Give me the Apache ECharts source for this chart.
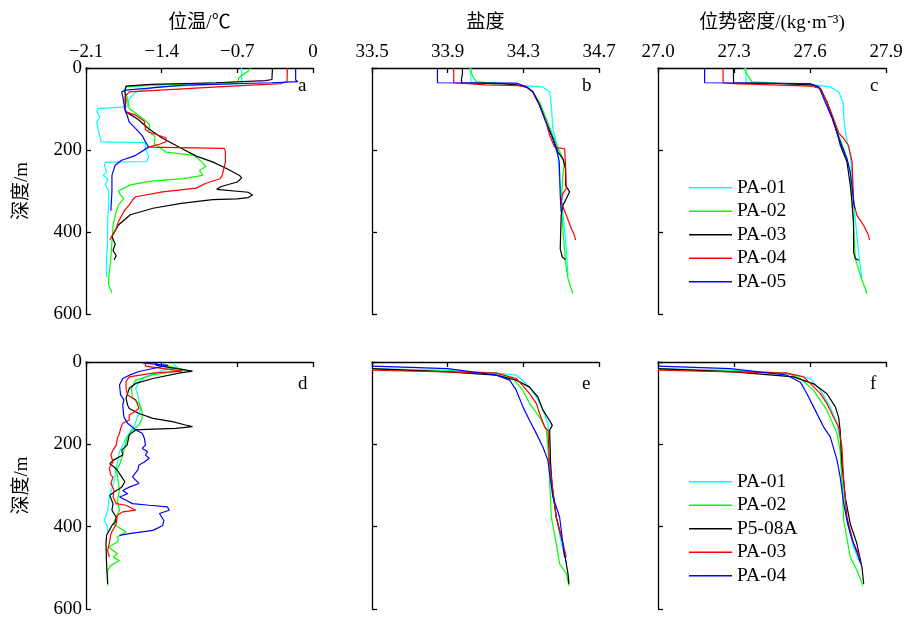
<!DOCTYPE html>
<html>
<head>
<meta charset="utf-8">
<script src="https://cdn.jsdelivr.net/npm/echarts@6/dist/echarts.min.js"></script>
<style>html,body{margin:0;padding:0;background:#fff;}#chart{width:910px;height:621px;}</style>
</head>
<body>
<div id="chart"></div>
<script>
// ---------- tick labels ----------
const depthTicks = [0, 200, 400, 600];
const tempTicks = [-2.1, -1.4, -0.7, 0];
const salTicks = [33.5, 33.9, 34.3, 34.7];
const denTicks = [27.0, 27.3, 27.6, 27.9];
const axisTitles = ['位温/℃', '盐度', '位势密度/(kg·m⁻³)'];
const depthTitle = '深度/m';
const panelLetters = ['a', 'b', 'c', 'd', 'e', 'f'];

// ---------- stations ----------
const topStations = ['PA-01', 'PA-02', 'PA-03', 'PA-04', 'PA-05'];
const bottomStations = ['PA-01', 'PA-02', 'P5-08A', 'PA-03', 'PA-04'];
const stationColors = ['#00ffff', '#00ff00', '#000000', '#ff0000', '#0000ff'];

// ---------- panel a: potential temperature, [value, depth] ----------
const a_PA01 = [[-0.66,0],[-0.66,36],[-0.70,38],[-1.45,46],[-1.64,59],[-1.70,75],[-1.72,95],[-1.99,99],[-2.00,107],[-1.97,119],[-2.00,132],[-1.99,148],[-1.97,168],[-1.96,180],[-1.55,182],[-1.55,197],[-1.52,217],[-1.54,228],[-1.92,230],[-1.93,237],[-1.91,254],[-1.94,262],[-1.90,270],[-1.92,285],[-1.89,300],[-1.89,330],[-1.90,375],[-1.90,420],[-1.91,470],[-1.91,510]];
const a_PA02 = [[-0.58,0],[-0.60,8],[-0.66,18],[-0.69,25],[-0.69,33],[-0.80,36],[-1.50,42],[-1.73,46],[-1.75,55],[-1.72,70],[-1.70,99],[-1.63,112],[-1.56,126],[-1.51,139],[-1.52,155],[-1.46,168],[-1.47,185],[-1.43,192],[-1.36,205],[-1.10,213],[-1.03,229],[-0.99,240],[-1.05,250],[-1.02,262],[-1.20,270],[-1.50,276],[-1.69,285],[-1.80,300],[-1.78,310],[-1.75,318],[-1.80,334],[-1.82,350],[-1.85,383],[-1.86,424],[-1.87,464],[-1.89,513],[-1.89,529],[-1.86,548]];
const a_PA03 = [[-0.375,0],[-0.38,28],[-0.44,31],[-0.90,36],[-1.50,40],[-1.73,44],[-1.74,59],[-1.73,80],[-1.74,100],[-1.73,107],[-1.62,125],[-1.52,148],[-1.40,170],[-1.21,197],[-1.08,215],[-0.93,229],[-0.80,245],[-0.68,262],[-0.66,268],[-0.70,278],[-0.85,289],[-0.89,296],[-0.60,303],[-0.56,310],[-0.60,316],[-0.70,319],[-0.93,321],[-1.22,330],[-1.48,342],[-1.69,358],[-1.73,367],[-1.80,383],[-1.86,411],[-1.83,430],[-1.85,445],[-1.82,458],[-1.84,468]];
const a_PA04 = [[-0.237,0],[-0.24,33],[-0.30,38],[-0.88,46],[-1.70,58],[-1.74,70],[-1.74,100],[-1.73,107],[-1.64,115],[-1.56,130],[-1.55,150],[-1.52,156],[-1.36,170],[-1.36,180],[-1.42,186],[-1.52,193],[-0.82,196],[-0.81,204],[-0.81,229],[-0.84,262],[-0.86,270],[-0.99,281],[-1.08,293],[-1.39,302],[-1.64,314],[-1.67,322],[-1.70,334],[-1.75,350],[-1.80,375],[-1.82,391],[-1.87,415],[-1.88,419]];
const a_PA05 = [[-0.161,0],[-0.16,30],[-0.14,33],[-0.38,36],[-1.20,42],[-1.73,54],[-1.77,58],[-1.76,70],[-1.74,102],[-1.72,115],[-1.70,132],[-1.64,148],[-1.58,165],[-1.55,180],[-1.52,193],[-1.64,213],[-1.77,225],[-1.83,237],[-1.86,262],[-1.86,300],[-1.87,348]];

// ---------- panel b: salinity ----------
const b_PA01 = [[34.023,0],[34.023,36],[34.20,40],[34.40,46],[34.439,58],[34.448,91],[34.456,148],[34.474,180],[34.483,213],[34.49,262],[34.509,351],[34.527,441],[34.536,506]];
const b_PA02 = [[34.016,0],[34.034,22],[34.052,34],[34.20,38],[34.27,42],[34.32,48],[34.35,58],[34.386,83],[34.456,164],[34.50,213],[34.518,229],[34.509,262],[34.50,327],[34.509,392],[34.523,473],[34.536,514],[34.562,550]];
const b_PA03 = [[33.978,0],[33.978,15],[33.972,30],[33.975,36],[34.20,38],[34.27,42],[34.32,47],[34.35,58],[34.386,91],[34.42,132],[34.456,172],[34.483,205],[34.509,221],[34.523,246],[34.523,286],[34.545,302],[34.527,319],[34.509,335],[34.50,359],[34.495,441],[34.506,461],[34.523,467]];
const b_PA04 = [[33.932,0],[33.932,36],[33.94,38],[34.10,41],[34.28,43],[34.32,47],[34.35,58],[34.386,91],[34.42,132],[34.439,164],[34.465,193],[34.518,197],[34.523,230],[34.527,294],[34.509,306],[34.50,327],[34.527,359],[34.554,392],[34.57,408],[34.576,420]];
const b_PA05 = [[33.846,0],[33.846,36],[34.263,37],[34.316,46],[34.35,58],[34.386,91],[34.42,132],[34.456,172],[34.483,213],[34.49,229],[34.495,310],[34.50,351]];

// ---------- panel c: potential density ----------
const c_PA01 = [[27.347,0],[27.347,36],[27.60,40],[27.68,46],[27.713,58],[27.73,83],[27.735,132],[27.746,180],[27.759,213],[27.766,262],[27.772,327],[27.785,408],[27.796,473],[27.805,512]];
const c_PA02 = [[27.34,0],[27.348,12],[27.371,34],[27.50,38],[27.614,42],[27.641,50],[27.667,83],[27.693,124],[27.713,164],[27.733,197],[27.746,221],[27.759,254],[27.766,335],[27.772,392],[27.779,465],[27.799,506],[27.825,550]];
const c_PA03 = [[27.298,0],[27.298,36],[27.50,38],[27.614,42],[27.641,50],[27.667,83],[27.69,124],[27.71,164],[27.72,189],[27.746,229],[27.759,286],[27.766,327],[27.772,376],[27.772,449],[27.779,465],[27.792,469]];
const c_PA04 = [[27.257,0],[27.257,36],[27.30,38],[27.45,41],[27.60,44],[27.641,50],[27.667,83],[27.693,124],[27.715,160],[27.733,172],[27.752,189],[27.766,229],[27.772,327],[27.785,359],[27.812,384],[27.831,408],[27.835,420]];
const c_PA05 = [[27.184,0],[27.184,36],[27.60,38],[27.635,46],[27.66,83],[27.688,124],[27.71,164],[27.73,197],[27.746,221],[27.759,254],[27.768,300],[27.776,343]];

// ---------- panel d: potential temperature ----------
const d_PA01 = [[-1.285,2],[-1.28,8],[-1.25,15],[-1.36,18],[-1.55,36],[-1.61,48],[-1.64,64],[-1.62,80],[-1.61,96],[-1.59,113],[-1.62,130],[-1.65,153],[-1.73,185],[-1.76,202],[-1.79,218],[-1.82,258],[-1.84,290],[-1.885,328],[-1.90,360],[-1.93,385],[-1.90,401],[-1.90,412]];
const d_PA02 = [[-1.39,1],[-1.38,8],[-1.18,19],[-1.48,31],[-1.64,44],[-1.68,64],[-1.67,88],[-1.61,100],[-1.58,121],[-1.58,137],[-1.61,153],[-1.67,165],[-1.72,185],[-1.76,226],[-1.79,250],[-1.82,263],[-1.81,275],[-1.80,295],[-1.79,312],[-1.81,336],[-1.79,360],[-1.82,377],[-1.85,393],[-1.73,413],[-1.81,425],[-1.80,435],[-1.89,450],[-1.81,466],[-1.85,474],[-1.79,482],[-1.87,494],[-1.90,506],[-1.90,543]];
const d_P508A = [[-1.454,1],[-1.45,8],[-1.115,22],[-1.24,27],[-1.48,40],[-1.64,52],[-1.70,64],[-1.73,88],[-1.715,105],[-1.70,113],[-1.61,125],[-1.48,137],[-1.30,145],[-1.18,153],[-1.115,157],[-1.27,161],[-1.48,163],[-1.64,165],[-1.70,177],[-1.72,202],[-1.77,214],[-1.76,226],[-1.85,239],[-1.88,247],[-1.84,255],[-1.81,263],[-1.77,279],[-1.74,291],[-1.77,304],[-1.84,316],[-1.88,324],[-1.85,344],[-1.86,360],[-1.82,377],[-1.83,389],[-1.86,397],[-1.91,421],[-1.915,441],[-1.91,490],[-1.90,539]];
const d_PA03 = [[-1.55,2],[-1.55,10],[-1.21,22],[-1.48,27],[-1.70,36],[-1.73,48],[-1.73,64],[-1.715,80],[-1.64,92],[-1.62,105],[-1.61,113],[-1.65,121],[-1.70,129],[-1.70,141],[-1.76,149],[-1.78,161],[-1.79,173],[-1.81,185],[-1.82,202],[-1.85,214],[-1.87,226],[-1.85,243],[-1.885,258],[-1.87,275],[-1.85,279],[-1.87,295],[-1.84,312],[-1.85,328],[-1.82,344],[-1.73,348],[-1.64,360],[-1.76,364],[-1.81,372],[-1.82,393],[-1.87,417],[-1.885,441],[-1.90,458],[-1.885,474]];
const d_PA04 = [[-1.58,2],[-1.34,8],[-1.39,11],[-1.61,23],[-1.70,32],[-1.76,40],[-1.79,56],[-1.78,80],[-1.75,92],[-1.76,105],[-1.75,133],[-1.715,149],[-1.64,165],[-1.58,173],[-1.56,185],[-1.55,202],[-1.58,210],[-1.53,218],[-1.55,226],[-1.515,234],[-1.56,243],[-1.61,250],[-1.62,262],[-1.67,279],[-1.61,295],[-1.70,304],[-1.76,312],[-1.715,320],[-1.79,328],[-1.73,336],[-1.67,344],[-1.515,348],[-1.346,352],[-1.33,360],[-1.42,368],[-1.38,385],[-1.39,397],[-1.48,409],[-1.70,417],[-1.79,421]];

// ---------- panel e: salinity ----------
const e_PA01 = [[33.5,16],[33.9,20],[34.157,27],[34.263,32],[34.316,53],[34.369,85],[34.404,117],[34.43,150],[34.439,190],[34.448,287],[34.474,377],[34.501,441],[34.53,490]];
const e_PA02 = [[33.5,18],[33.9,22],[34.157,27],[34.245,40],[34.298,69],[34.333,101],[34.386,134],[34.422,166],[34.43,207],[34.439,287],[34.448,377],[34.474,441],[34.492,490],[34.527,514],[34.541,543]];
const e_P508A = [[33.5,16],[33.9,24],[34.157,32],[34.263,44],[34.333,61],[34.377,85],[34.404,117],[34.439,142],[34.453,154],[34.439,166],[34.444,247],[34.453,304],[34.474,377],[34.509,441],[34.536,514],[34.541,539]];
const e_PA03 = [[33.5,20],[33.9,24],[34.157,27],[34.263,40],[34.333,77],[34.369,101],[34.386,125],[34.413,158],[34.43,166],[34.439,247],[34.456,312],[34.474,377],[34.501,425],[34.527,474]];
const e_PA04 = [[33.5,10],[33.9,16],[34.157,32],[34.228,44],[34.263,69],[34.298,109],[34.333,142],[34.369,174],[34.404,207],[34.43,239],[34.439,271],[34.456,328],[34.474,352],[34.492,377],[34.509,441],[34.518,474]];

// ---------- panel f: potential density ----------
const f_PA01 = [[27.0,16],[27.3,20],[27.509,27],[27.601,40],[27.641,69],[27.68,109],[27.707,150],[27.719,190],[27.726,287],[27.746,385],[27.772,450],[27.792,482]];
const f_PA02 = [[27.0,18],[27.3,22],[27.509,27],[27.562,40],[27.614,69],[27.667,117],[27.707,174],[27.719,215],[27.726,287],[27.733,385],[27.759,474],[27.785,506],[27.809,543]];
const f_P508A = [[27.0,16],[27.3,24],[27.535,36],[27.614,53],[27.667,77],[27.70,109],[27.713,134],[27.719,166],[27.726,247],[27.739,328],[27.759,393],[27.785,441],[27.805,498],[27.812,539]];
const f_PA03 = [[27.0,20],[27.3,24],[27.509,27],[27.575,36],[27.641,77],[27.667,101],[27.693,134],[27.713,158],[27.726,207],[27.733,287],[27.746,377],[27.772,441],[27.792,466],[27.796,482]];
const f_PA04 = [[27.0,10],[27.285,16],[27.509,32],[27.562,49],[27.588,77],[27.614,109],[27.654,158],[27.68,182],[27.707,239],[27.719,279],[27.733,344],[27.746,385],[27.759,417],[27.772,441],[27.792,474],[27.80,490]];

// ---------- build ----------
const SERIF = '"Liberation Serif", "Times New Roman", "Noto Sans CJK SC", serif';
const panels = [
  {data: [a_PA01, a_PA02, a_PA03, a_PA04, a_PA05], ticks: tempTicks, top: true, col: 0},
  {data: [b_PA01, b_PA02, b_PA03, b_PA04, b_PA05], ticks: salTicks, top: true, col: 1},
  {data: [c_PA01, c_PA02, c_PA03, c_PA04, c_PA05], ticks: denTicks, top: true, col: 2},
  {data: [d_PA01, d_PA02, d_P508A, d_PA03, d_PA04], ticks: tempTicks, top: false, col: 0},
  {data: [e_PA01, e_PA02, e_P508A, e_PA03, e_PA04], ticks: salTicks, top: false, col: 1},
  {data: [f_PA01, f_PA02, f_P508A, f_PA03, f_PA04], ticks: denTicks, top: false, col: 2}
];
const colLeft = [86, 372, 658];
const colWidth = [227, 227, 228];
const rowTop = [68, 362];
const rowHeight = [246, 247];

function fmtX(col) {
  return function (v) {
    if (col === 0) {
      if (Math.abs(v) < 1e-9) return '0';
      return (v < 0 ? '\u2212' : '') + Math.abs(v).toFixed(1);
    }
    return v.toFixed(1);
  };
}

const grids = [], xAxes = [], yAxes = [], series = [], graphics = [];
panels.forEach((p, i) => {
  const r = p.top ? 0 : 1;
  grids.push({left: colLeft[p.col], top: rowTop[r], width: colWidth[p.col], height: rowHeight[r], containLabel: false, outerBoundsMode: 'none'});
  xAxes.push({
    gridIndex: i, type: 'value', position: 'top',
    min: p.ticks[0], max: p.ticks[p.ticks.length - 1],
    name: p.top ? axisTitles[p.col] : '', nameLocation: 'middle', nameGap: 35,
    nameTextStyle: {fontFamily: SERIF, fontSize: 19, color: '#000'},
    axisLine: {show: true, onZero: false, lineStyle: {color: '#000', width: 1.3}},
    axisTick: {show: true, inside: true, length: 5, customValues: p.ticks, lineStyle: {color: '#000', width: 1.3}},
    axisLabel: {show: p.top, customValues: p.ticks, formatter: fmtX(p.col), fontFamily: SERIF, fontSize: 19, color: '#000', margin: 6},
    splitLine: {show: false}
  });
  yAxes.push({
    gridIndex: i, type: 'value', inverse: true, min: 0, max: 600,
    name: p.col === 0 ? depthTitle : '', nameLocation: 'middle', nameGap: 54, nameRotate: 90,
    nameTextStyle: {fontFamily: SERIF, fontSize: 19, color: '#000'},
    axisLine: {show: true, onZero: false, lineStyle: {color: '#000', width: 1.3}},
    axisTick: {show: true, inside: true, length: 5, customValues: depthTicks, lineStyle: {color: '#000', width: 1.3}},
    axisLabel: {show: p.col === 0, customValues: depthTicks, fontFamily: SERIF, fontSize: 19, color: '#000', margin: 4},
    splitLine: {show: false}
  });
  const names = p.top ? topStations : bottomStations.map(n => 'B:' + n);
  p.data.forEach((arr, k) => {
    series.push({
      type: 'line', name: names[k], xAxisIndex: i, yAxisIndex: i,
      data: arr, symbol: 'none', showSymbol: false, clip: true,
      lineStyle: {color: stationColors[k], width: 1.2},
      itemStyle: {color: stationColors[k]},
      emphasis: {disabled: true}, animation: false, z: 2
    });
  });
});

const letterX = [298, 582, 870];
const letterBase = [93, 391];
panels.forEach((p, i) => {
  graphics.push({
    type: 'text', x: letterX[p.col], y: letterBase[p.top ? 0 : 1] - 6.5,
    style: {text: panelLetters[i], font: '19px ' + SERIF, fill: '#000', verticalAlign: 'middle', align: 'left'}
  });
});

const legendCommon = {
  orient: 'vertical', left: 689, itemWidth: 43, itemHeight: 1.6, itemGap: 4, padding: 0,
  icon: 'rect', selectedMode: false,
  textStyle: {fontFamily: SERIF, fontSize: 19.5, color: '#000', lineHeight: 19.5}
};

const option = {
  backgroundColor: '#fff',
  animation: false,
  grid: grids, xAxis: xAxes, yAxis: yAxes, series: series,
  legend: [
    Object.assign({}, legendCommon, {top: 178, data: topStations}),
    Object.assign({}, legendCommon, {top: 472, data: bottomStations.map(n => 'B:' + n), formatter: n => n.replace(/^B:/, '')})
  ],
  graphic: graphics
};

const chart = echarts.init(document.getElementById('chart'), null, {renderer: 'canvas'});
chart.setOption(option);
</script>
</body>
</html>
